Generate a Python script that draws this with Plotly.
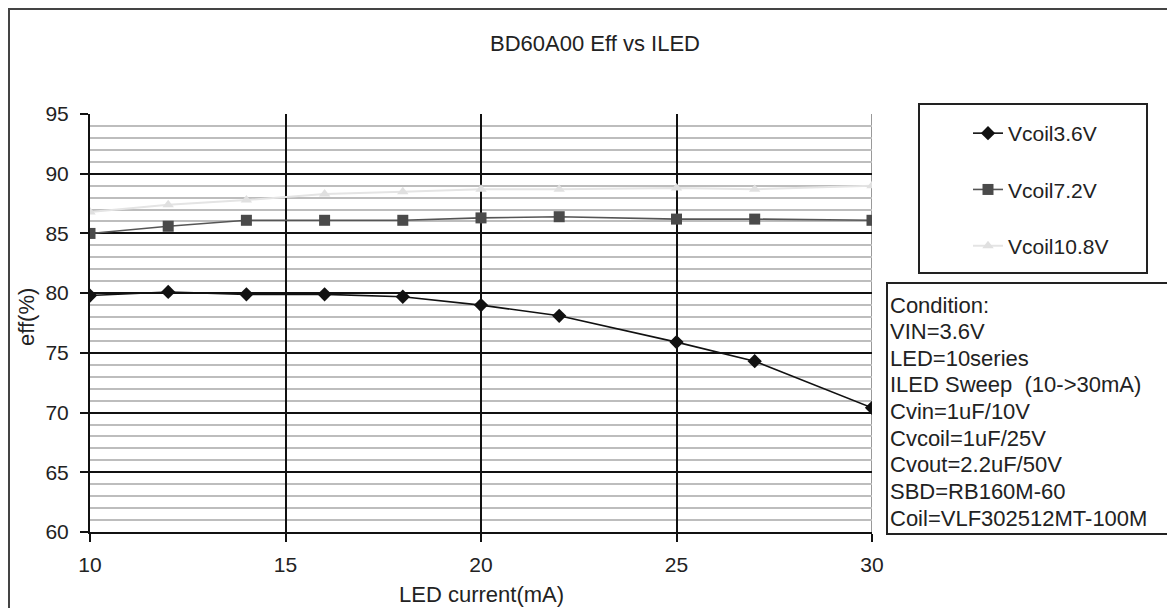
import plotly.graph_objects as go

# The page body has an 8px margin, so all reference pixel positions are shifted by OFF.
OFF = 8
W, H = 1175 - OFF, 608 - OFF
L, R, T, B = 90 - OFF, 872 - OFF, 114 - OFF, 532 - OFF  # plot area in figure pixels

led_current = [10, 12, 14, 16, 18, 20, 22, 25, 27, 30]
eff_vcoil_3_6 = [79.8, 80.1, 79.9, 79.9, 79.7, 79.0, 78.1, 75.9, 74.3, 70.4]
eff_vcoil_7_2 = [85.0, 85.6, 86.1, 86.1, 86.1, 86.3, 86.4, 86.2, 86.2, 86.1]
eff_vcoil_10_8 = [86.8, 87.4, 87.8, 88.3, 88.5, 88.7, 88.7, 88.8, 88.7, 89.0]
series_names = ["Vcoil3.6V", "Vcoil7.2V", "Vcoil10.8V"]
x_ticks = [10, 15, 20, 25, 30]
y_ticks = [60, 65, 70, 75, 80, 85, 90, 95]
condition_lines = [
    "Condition:",
    "VIN=3.6V",
    "LED=10series",
    "ILED Sweep  (10->30mA)",
    "Cvin=1uF/10V",
    "Cvcoil=1uF/25V",
    "Cvout=2.2uF/50V",
    "SBD=RB160M-60",
    "Coil=VLF302512MT-100M",
]

FONT = "Liberation Sans, Arial, sans-serif"
TXT = "#222222"


def px(xp):
    """reference-screen x pixel -> paper coordinate"""
    return (xp - OFF - L) / (R - L)


def py(yp):
    """reference-screen y pixel -> paper coordinate"""
    return (B - (yp - OFF)) / (B - T)


fig = go.Figure()
fig.add_trace(go.Scatter(
    x=led_current, y=eff_vcoil_3_6, name=series_names[0], mode="lines+markers",
    line=dict(color="#111111", width=1.6),
    marker=dict(symbol="diamond", size=11, color="#111111"),
    legendgroup="a"))
fig.add_trace(go.Scatter(
    x=led_current, y=eff_vcoil_7_2, name=series_names[1], mode="lines+markers",
    line=dict(color="#555555", width=1.6),
    marker=dict(symbol="square", size=11, color="#4a4a4a"),
    legendgroup="b"))
fig.add_trace(go.Scatter(
    x=led_current, y=eff_vcoil_10_8, name=series_names[2], mode="lines+markers",
    line=dict(color="#e4e4e4", width=2),
    marker=dict(symbol="triangle-up", size=10, color="#e0e0e0"),
    legendgroup="c"))

shapes = [
    # right border of plot area (gray)
    dict(type="line", xref="x", yref="paper", x0=30, x1=30, y0=0, y1=1,
         line=dict(color="#999999", width=2), layer="between"),
    # outer frame
    dict(type="rect", xref="paper", yref="paper",
         x0=px(9), x1=px(1190), y0=py(620), y1=py(9),
         line=dict(color="#444444", width=2), layer="below"),
    # legend box
    dict(type="rect", xref="paper", yref="paper",
         x0=px(919), x1=px(1147), y0=py(273), y1=py(104),
         line=dict(color="#222222", width=2), fillcolor="white", layer="below"),
    # condition box
    dict(type="rect", xref="paper", yref="paper",
         x0=px(887), x1=px(1171), y0=py(534), y1=py(283),
         line=dict(color="#222222", width=2), fillcolor="white", layer="below"),
]

annotations = [
    dict(text="LED current(mA)", xref="paper", yref="paper",
         x=px(481), y=py(594), xanchor="center", yanchor="middle",
         showarrow=False, font=dict(family=FONT, size=22, color=TXT)),
    dict(text="eff(%)", xref="paper", yref="paper", textangle=-90,
         x=px(26), y=py(317), xanchor="center", yanchor="middle",
         showarrow=False, font=dict(family=FONT, size=22, color=TXT)),
]
line_step = (518 - 305) / (len(condition_lines) - 1)
for i, line in enumerate(condition_lines):
    annotations.append(dict(
        text=line, xref="paper", yref="paper",
        x=px(889), y=py(305 + i * line_step), xanchor="left", yanchor="middle",
        align="left", showarrow=False, borderpad=0,
        font=dict(family=FONT, size=22, color=TXT)))

fig.update_layout(
    width=W, height=H,
    margin=dict(l=L, r=W - R, t=T, b=H - B, pad=0),
    paper_bgcolor="white", plot_bgcolor="white",
    font=dict(family=FONT, color=TXT, size=21),
    title=dict(text="BD60A00 Eff vs ILED", xref="container", yref="container",
               x=(595 - OFF) / W, y=1 - (43.5 - OFF) / H,
               xanchor="center", yanchor="middle",
               font=dict(family=FONT, size=22, color=TXT)),
    showlegend=True,
    legend=dict(xref="container", yref="container",
                x=(968 - OFF) / W, y=1 - (113 - OFF) / H,
                xanchor="left", yanchor="top", bgcolor="rgba(0,0,0,0)",
                borderwidth=0, tracegroupgap=26,
                font=dict(family=FONT, size=21, color=TXT)),
    shapes=shapes,
    annotations=annotations,
)

fig.update_xaxes(
    range=[10, 30], tickvals=x_ticks, ticktext=[str(v) for v in x_ticks],
    showgrid=True, gridcolor="#111111", gridwidth=1.6,
    showline=True, linecolor="#111111", linewidth=2,
    ticks="outside", ticklen=8, tickcolor="#111111", tickwidth=2,
    ticklabelstandoff=5,
    tickfont=dict(family=FONT, size=21, color=TXT),
    zeroline=False, fixedrange=True,
)
fig.update_yaxes(
    range=[60, 95], tickvals=y_ticks, ticktext=[str(v) for v in y_ticks],
    showgrid=True, gridcolor="#111111", gridwidth=1.6,
    minor=dict(dtick=1, showgrid=True, gridcolor="#bdbdbd", gridwidth=1.5),
    showline=True, linecolor="#111111", linewidth=2,
    ticks="outside", ticklen=8, tickcolor="#111111", tickwidth=2,
    ticklabelstandoff=7,
    tickfont=dict(family=FONT, size=21, color=TXT),
    zeroline=False, fixedrange=True,
)

fig.write_html("out.html", config={"displayModeBar": False})
